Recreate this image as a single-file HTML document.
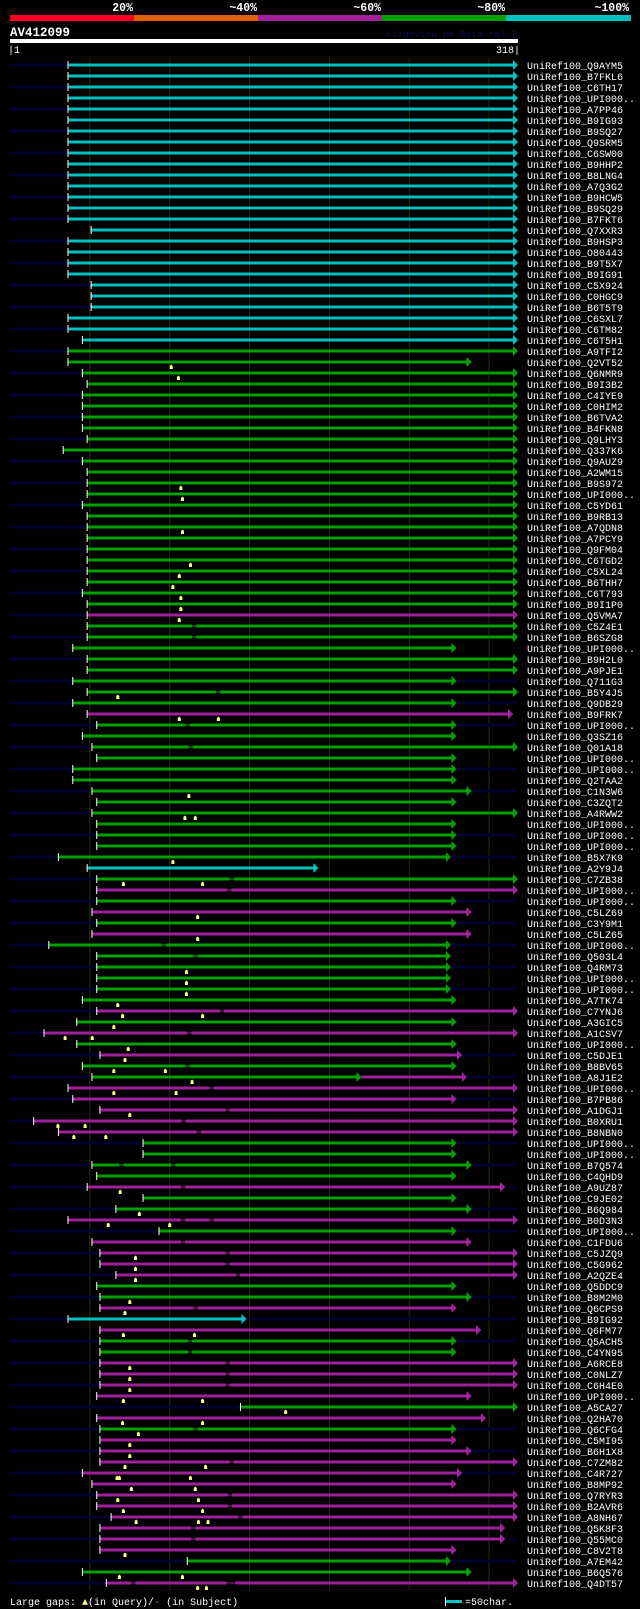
<!DOCTYPE html>
<html><head><meta charset="utf-8"><title>AV412099 alignment</title>
<style>
html,body{margin:0;padding:0;background:#000;}
svg{display:block;}
text{font-family:"Liberation Mono","DejaVu Sans Mono",monospace;}
</style></head>
<body>
<svg id="chart" width="640" height="1609" viewBox="0 0 640 1609" xmlns="http://www.w3.org/2000/svg">
<rect x="0" y="0" width="640" height="1609" fill="#000"/>
<g id="header">
  <rect x="10" y="15" width="124" height="6" fill="#ff0022"/>
  <rect x="134" y="15" width="124" height="6" fill="#e06000"/>
  <rect x="258" y="15" width="124" height="6" fill="#a0209c"/>
  <rect x="382" y="15" width="124" height="6" fill="#00a000"/>
  <rect x="506" y="15" width="125" height="6" fill="#00c0c0"/>
  <text x="133" y="11" text-anchor="end" fill="#fff" font-size="11.5" font-weight="bold">20%</text>
  <text x="257" y="11" text-anchor="end" fill="#fff" font-size="11.5" font-weight="bold">~40%</text>
  <text x="381" y="11" text-anchor="end" fill="#fff" font-size="11.5" font-weight="bold">~60%</text>
  <text x="505" y="11" text-anchor="end" fill="#fff" font-size="11.5" font-weight="bold">~80%</text>
  <text x="629" y="11" text-anchor="end" fill="#fff" font-size="11.5" font-weight="bold">~100%</text>
  <text x="10" y="36" fill="#fff" font-size="12.5" font-weight="bold">AV412099</text>
  <text x="517" y="37" text-anchor="end" fill="#0c0c50" font-size="9.5">AlignView.pm Beta rel.7</text>
  <rect x="10" y="39" width="508" height="4" fill="#fff"/>
  <text x="8" y="53" fill="#fff" font-size="10">|1</text>
  <text x="520" y="53" text-anchor="end" fill="#fff" font-size="10">318|</text>
</g>
<g id="grid"></g>
<g id="rows"></g>
<g id="footer">
  <text x="10" y="1605" fill="#fff" font-size="10">Large gaps: <tspan fill="#ffff80">▲</tspan>(in Query)/<tspan fill="#00c0c0">-</tspan> (in Subject)</text>
  <rect x="445" y="1600" width="17" height="3" fill="#00c0c0"/>
  <rect x="445" y="1597" width="1" height="9" fill="#fff"/>
  <text x="465" y="1605" fill="#fff" font-size="10">=50char.</text>
</g>
</svg>
<script>
const names = ["Q9AYM5","B7FKL6","C6TH17","UPI000..","A7PP46","B9IG93","B9SQ27","Q9SRM5","C6SW00","B9HHP2","B8LNG4","A7Q3G2","B9HCW5","B9SQ29","B7FKT6","Q7XXR3","B9HSP3","O80443","B9T5X7","B9IG91","C5X924","C0HGC9","B6T5T9","C6SXL7","C6TM82","C6T5H1","A9TFI2","Q2VT52","Q6NMR9","B9I3B2","C4IYE9","C0HIM2","B6TVA2","B4FKN8","Q9LHY3","Q337K6","Q9AUZ9","A2WM15","B9S972","UPI000..","C5YD61","B9RB13","A7QDN8","A7PCY9","Q9FM04","C6TGD2","C5XL24","B6THH7","C6T793","B9I1P0","Q5VMA7","C5Z4E1","B6SZG8","UPI000..","B9H2L0","A9PJE1","Q711G3","B5Y4J5","Q9DB29","B9FRK7","UPI000..","Q3SZ16","Q01A18","UPI000..","UPI000..","Q2TAA2","C1N3W6","C3ZQT2","A4RWW2","UPI000..","UPI000..","UPI000..","B5X7K9","A2Y9J4","C7ZB38","UPI000..","UPI000..","C5LZ69","C3Y9M1","C5LZ65","UPI000..","Q503L4","Q4RM73","UPI000..","UPI000..","A7TK74","C7YNJ6","A3GIC5","A1CSV7","UPI000..","C5DJE1","B8BV65","A8J1E2","UPI000..","B7PB86","A1DGJ1","B0XRU1","B8NBN0","UPI000..","UPI000..","B7Q574","C4QHD9","A9UZ87","C9JE02","B6Q984","B0D3N3","UPI000..","C1FDU6","C5JZQ9","C5G962","A2QZE4","Q5DDC9","B8M2M0","Q6CPS9","B9IG92","Q6FM77","Q5ACH5","C4YN95","A6RCE8","C0NLZ7","C6H4E0","UPI000..","A5CA27","Q2HA70","Q6CFG4","C5MI95","B6H1X8","C7ZM82","C4R727","B8MP92","Q7RYR3","B2AVR6","A8NH67","Q5K8F3","Q55MC0","C8V2T8","A7EM42","B6Q576","Q4DT57"];
const starts = [36,36,36,36,36,36,36,36,36,36,36,36,36,36,36,50.5,36,36,36,36,50.5,50.5,50.5,36,36,45,36,36,
45,48,45,45,45,45,48,33,45,48,48,48,45,48,48,48,48,48,48,48,45,48,48,48,48,
39,48,48,39,48,39,48,54,45,51,54,39,39,51,54,51,54,54,54,30,48,54,54,54,51,54,51,24,
54,54,54,54,45,54,41.5,21,41.5,56,45,51,36,39,56,14.5,30,83,83,51,54,48,83,66,36,93,51,56,
56,66,54,56,56,36,56,56,56,56,56,56,54,144,54,56,56,56,56,45,51,54,54,63,56,56,56,110.7,45,60];
const ends = [315,315,315,315,315,315,315,315,315,315,315,315,315,315,315,315,315,315,315,315,315,315,315,315,315,315,315,286,
315,315,315,315,315,315,315,315,315,315,315,315,315,315,315,315,315,315,315,315,315,315,315,315,315,
276.5,315,315,276.5,315,276.5,312,276.5,276.5,315,276.5,276.5,276.5,286,276.5,315,276.5,276.5,276.5,273,190,315,315,276.5,286,276.5,286,273,
273,273,273,273,276.5,315,276.5,315,276.5,280,276.5,217,315,276.5,315,315,315,276.5,276.5,286,276.5,307,276.5,286,315,276.5,286,315,
315,315,276.5,286,276.5,145,292,276.5,276.5,315,315,315,286,315,295,276.5,276.5,286,315,280,276.5,315,315,315,307,307,276.5,273,286,315];
const colorCodes = ("cccccccccccccccccccccccccc"+"gggggggggggggggggggggggg"+"m"+"gggggggg"+"m"+"ggggggggggggg"+"c"+"gmgmgm"+"gggggg"+"mgmgmgg"+"mm"+"mmm"+"gggg"+"mggmg"+"mmmm"+"ggmcmgg"+"mmmm"+"gmg"+"mmmmmmmmmmm"+"ggm").split("");
const extRows = [93];
const extEnds = [283];
const extColors = ["m"];
const markerRows = [28,29,39,40,43,46,47,48,49,50,51,58,60,60,67,69,69,73,75,75,78,80,83,84,85,86,87,87,88,89,89,90,91,92,92,93,94,94,96,97,97,98,98,103,105,106,106,109,110,111,113,114,116,116,119,120,121,122,122,123,124,124,125,126,127,128,128,129,129,129,130,130,131,131,132,132,133,133,133,136,138,138,139,139];
const markerPos = [101,105.5,107,108,108,113,106,102,107,107,106,67.5,106,130.5,112,109.5,116,102,71,120.6,117.5,117.5,110.5,110.5,110.5,67.5,70.5,120.6,65,34.5,51.5,74,72,65,97.3,114,65,104,75,30,47,40,60,69,81,61.5,100,78.6,78.6,78.6,75,72,71,115.5,75,75,75,71,120.6,172.6,70.5,120.6,80.4,75,75,72,122.5,67,68.5,113,76,116,67.5,118,71,120.6,79,118,124,72,68.5,108,117.5,123];
const gapRows = [52,53,58,61,63,75,76,81,82,87,89,92,94,96,97,98,101,101,103,106,106,108,109,110,111,114,117,118,119,120,121,125,128,131,132,133,134,135,139,139];
const gapPos = [114,114,129,110,112,137.5,136,95,115,131.5,111,110,125,135,107.5,117,68.5,101,107,107,125,107,135,135,141.5,115,111.5,111.5,135,135,135,115,137.5,136.5,136.5,143,113.6,113.6,76,135.5];
const gapLen = [2.5,2.5,2.5,2.5,2.5,2.5,2.5,2.5,2.5,2.5,2.5,2.5,2.5,2.5,2.5,2.5,2.5,2.5,2.5,2.5,2.5,2.5,2.5,2.5,2.5,2.5,2.5,2.5,2.5,2.5,2.5,2.5,2.5,2.5,2.5,2.5,2.5,2.5,2.5,5.5];
const gridTicks = [50,100,150,200,250,300];

const NS = "http://www.w3.org/2000/svg";
const COLORS = {c:"#00c0c0", g:"#00a000", m:"#a0209c"};
const xScale = r => 10 + r * 1.597;
const yRow = i => 65 + i * 11;
function mk(tag, attrs, parent){
  const el = document.createElementNS(NS, tag);
  for (const k in attrs) el.setAttribute(k, attrs[k]);
  parent.appendChild(el);
  return el;
}
const grid = document.getElementById("grid");
const rows = document.getElementById("rows");
gridTicks.forEach(t => {
  const l = mk("line", {x1:xScale(t), x2:xScale(t), y1:58, y2:1590, stroke:"#2e2e00", "stroke-width":1}, grid);
  
  
});
names.forEach((n, i) => {
  const y = yRow(i);
  if (i % 2 === 0) {
    const s = mk("rect", {x:10, y:y-1.5, width:507, height:3, fill:"#00002e"}, rows);
    
    
  }
  const col = COLORS[colorCodes[i]];
  const x0 = xScale(starts[i]), x1 = xScale(ends[i]);
  const bar = mk("rect", {x:x0, y:y-1.5, width:x1-x0, height:3, fill:col}, rows);
  
  
  const st = mk("rect", {x:x0, y:y-4, width:1, height:8, fill:"#fff"}, rows);
  
  
  const et = mk("rect", {x:x1, y:y-4, width:1, height:8, fill:"#fff"}, rows);
  
  
  const ar = mk("polygon", {points:`${x1},${y-5} ${x1+5},${y} ${x1},${y+5}`, fill:col}, rows);
  
  
  const lab = mk("text", {x:527, y:y+4, fill:"#fff", "font-size":10}, rows);
  lab.textContent = "UniRef100_" + n;
  
  
});
extRows.forEach((r, k) => {
  const i = r - 1, y = yRow(i);
  const col = COLORS[extColors[k]];
  const x0 = xScale(ends[i]) + 5, x1 = xScale(extEnds[k]);
  const b = mk("rect", {x:x0, y:y-1.5, width:x1-x0, height:3, fill:col}, rows);
  
  
  const t = mk("rect", {x:x1, y:y-4, width:1, height:8, fill:"#fff"}, rows);
  
  
  const a = mk("polygon", {points:`${x1},${y-5} ${x1+5},${y} ${x1},${y+5}`, fill:col}, rows);
  
  
});
gapRows.forEach((r, k) => {
  const i = r - 1, y = yRow(i);
  const col = COLORS[colorCodes[i]];
  const gx = xScale(gapPos[k]), gw = gapLen[k] * 1.597;
  const g = mk("rect", {x:gx, y:y-1.5, width:gw, height:3, fill:"#000"}, rows);
  
  
  const gl = mk("rect", {x:gx, y:y-0.5, width:gw, height:1, fill:col}, rows);
  
  
});
markerRows.forEach((r, k) => {
  const i = r - 1, y = yRow(i);
  const mx = xScale(markerPos[k]);
  const m = mk("polygon", {points:`${mx-1.5},${y+7} ${mx-1.5},${y+4} ${mx},${y+2.5} ${mx+1.5},${y+4} ${mx+1.5},${y+7}`, fill:"#ffff80"}, rows);
  
  
});
</script>
</body></html>
